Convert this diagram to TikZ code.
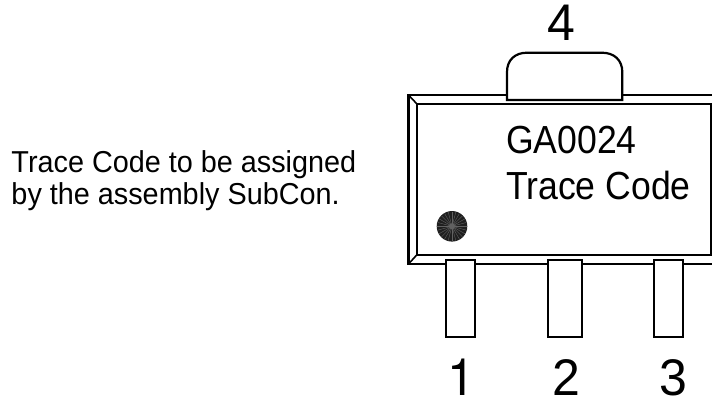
\documentclass[tikz,border=0pt]{standalone}
\usepackage{fontspec}
\setmainfont{Liberation Sans}
\newfontfamily\herosfont{TeX Gyre Heros}
\tikzset{
  outline/.style={draw=black,line width=2.2pt,line join=miter},
  thinline/.style={draw=black,line width=1.6pt},
  lab/.style={inner sep=0pt,outer sep=0pt,anchor=base west,yscale=1.1,transform shape,text=black},
  note/.style={inner sep=0pt,outer sep=0pt,anchor=base west,yscale=1.05,transform shape,text=black,font=\fontsize{28.8}{28.8}\selectfont},
  pinnum/.style={inner sep=0pt,outer sep=0pt,anchor=base west,yscale=1.03,transform shape,text=black,font=\fontsize{50}{50}\selectfont},
  marktext/.style={lab,font=\fontsize{35.6}{35.6}\selectfont}
}
\begin{document}
\begin{tikzpicture}[x=1pt,y=-1pt]
\useasboundingbox (0,0) rectangle (712,400);
\fill[white] (0,0) rectangle (712,400);
% body
\draw[outline] (713,95) -- (408.5,95) -- (408.5,264) -- (713,264);
\draw[outline] (711,103.7) rectangle (416.7,255);
\draw[thinline] (408.5,95) -- (416.7,103.7);
\draw[thinline] (408.5,264) -- (416.7,255);
% tab
\draw[outline,fill=white] (507,100) -- (507,72) .. controls (507,60) and (515,52.7) .. (527,52.7) -- (602,52.7) .. controls (614,52.7) and (622.3,60) .. (622.3,72) -- (622.3,100) -- cycle;
% pins
\draw[outline,fill=white] (446.3,260) rectangle (475.3,336.7);
\draw[outline,fill=white] (547.7,260) rectangle (581.7,336.7);
\draw[outline,fill=white] (654.3,260) rectangle (683,336.7);
% dot
\fill[black!88] (452,226.3) circle (15.3);
\foreach \a in {0,15,...,345} \draw[black!62,line width=0.4pt] (452,226.3) -- ++(\a:14.8);
\fill[black!62] (452,226.3) circle (3);
% text
\node[note] (n1) at (11.5,172) {Trace Code to be assigned};
\node[note] (n2) at (11.5,204.5) {by the assembly SubCon.};
\node[marktext] (m1) at (506,153) {GA0024};
\node[marktext] (m2) at (506,199) {Trace Code};
\node[pinnum] (p4) at (547,40) {4};
\node[pinnum] (p1) at (447,395.5) {\herosfont 1};
\node[pinnum] (p2) at (552,395.5) {2};
\node[pinnum] (p3) at (659,395.5) {3};
\end{tikzpicture}
\end{document}
